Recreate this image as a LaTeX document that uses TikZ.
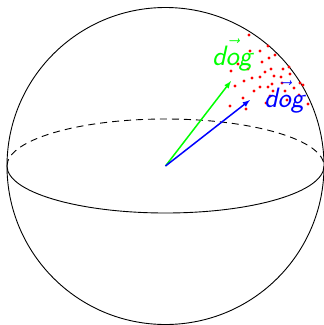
\documentclass[tikz,border=0pt]{standalone}
\usepackage{amsmath}
\begin{document}
\begin{tikzpicture}[x=1pt, y=-1pt,
  every node/.style={font=\fontsize{28}{30}\selectfont},
  vecarrow/.style={-latex, line width=1.5pt},
  dot/.style={circle, fill=red, inner sep=0pt, minimum size=3.2pt}]

\useasboundingbox (0,0) rectangle (324,325);

\def\rx{158.5}
\def\ry{47}

%% ── Sphere ───────────────────────────────────────────────────────────────────
\coordinate (o) at (165.5,166);
\draw[line width=0.9pt] (o) circle[radius=\rx];
\draw[line width=0.9pt, dash pattern=on 7pt off 5pt]
  (165.5-\rx,166) arc[start angle=180, end angle=0, x radius=\rx, y radius=-\ry];
\draw[line width=0.9pt]
  (165.5-\rx,166) arc[start angle=180, end angle=360, x radius=\rx, y radius=-\ry];

%% ── Red cloud ────────────────────────────────────────────────────────────────
\foreach \px/\py in {249/35, 268/46, 250/51, 260/51, 275/55, 269/58, 262/62,
                     238/64, 248/69, 271/69, 283/69, 289/67, 231/71, 265/72,
                     274/76, 260/77, 290/74, 281/77, 303/85, 244/81, 272/84,
                     268/87, 235/86, 260/87, 300/83, 282/83, 285/91, 273/91,
                     254/91, 243/98, 230/106, 270/96, 287/100, 308/104,
                     246/109, 266/103, 299/95, 252/78, 294/88}{
  \node[dot] at (\px,\py) {};
}

%% ── Vectors ──────────────────────────────────────────────────────────────────
\coordinate (g) at (231,81);
\coordinate (b) at (250,100);
\draw[vecarrow, green] (o) -- (g);
\draw[vecarrow, blue]  (o) -- (b);

\node[green, inner sep=0pt] (glabel) at (233,55) {$\vec{\textsf{\textit{dog}}}$};
\node[blue, inner sep=0pt]  (blabel) at (285,97) {$\vec{\textsf{\textit{dog}}}$};

\end{tikzpicture}
\end{document}
